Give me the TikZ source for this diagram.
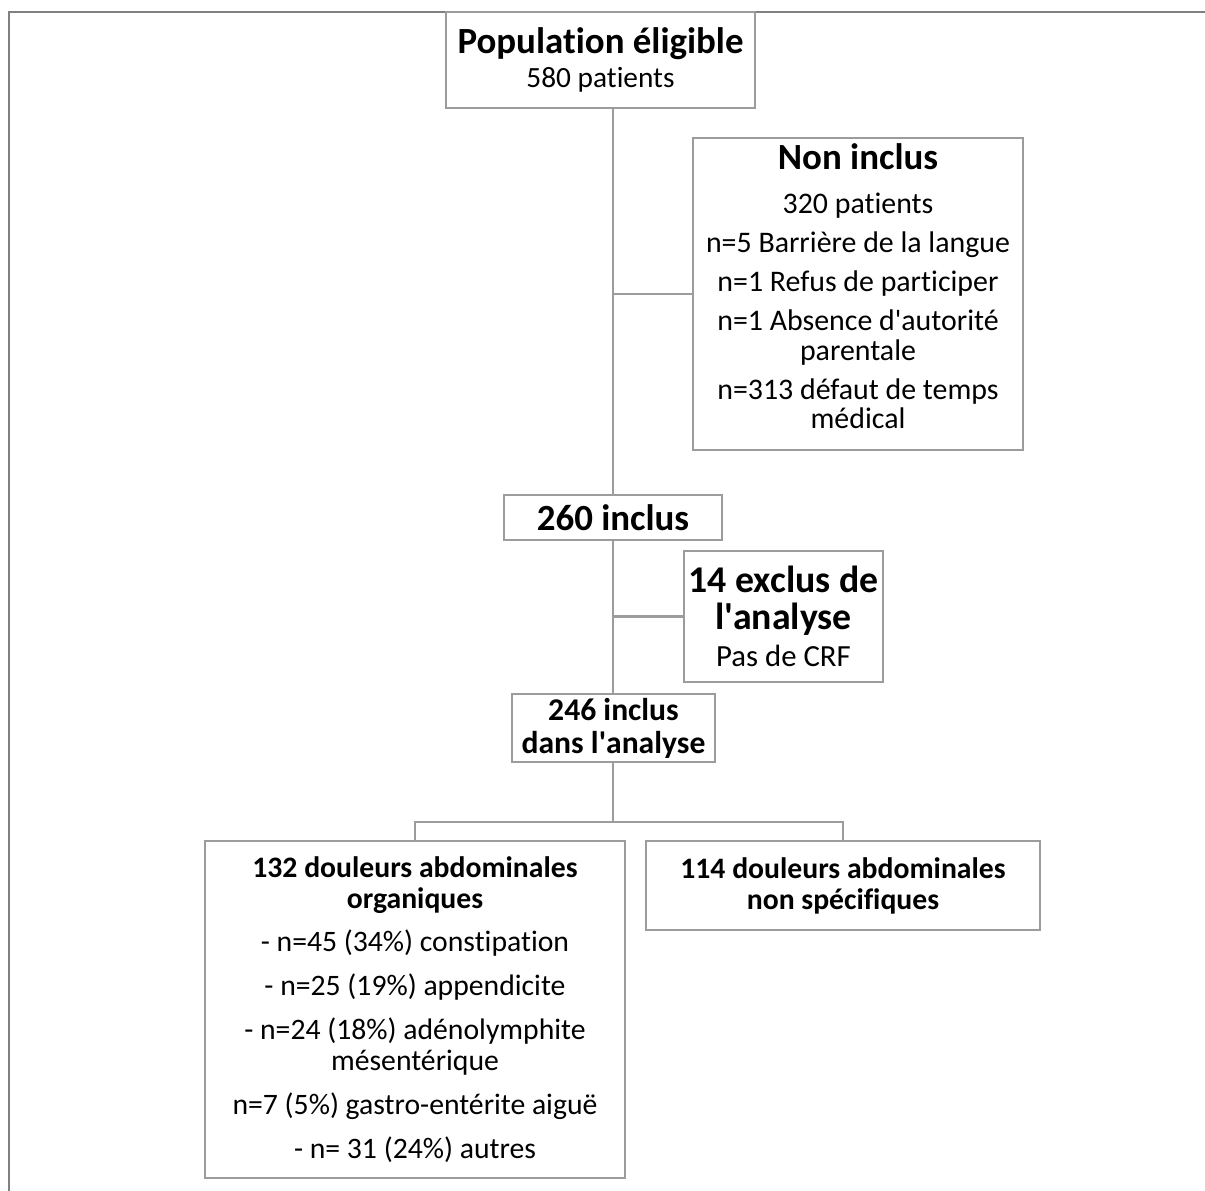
\documentclass[tikz,border=0pt]{standalone}
\usepackage{fontspec}
\setmainfont{Carlito}[Ligatures=NoCommon]
\usetikzlibrary{calc}
\definecolor{framegray}{HTML}{808080}
\definecolor{boxgray}{HTML}{9C9C9C}
\newcommand{\bigtitle}[1]{{\fontsize{21}{21}\selectfont\bfseries #1}}
\newcommand{\q}{\textquotesingle}

\begin{document}
\begin{tikzpicture}[x=0.02cm,y=-0.02cm,
  font=\fontsize{16.7}{16.4}\selectfont,
  box/.style={draw=boxgray,line width=1.2pt,align=center,inner sep=0pt},
  wire/.style={draw=boxgray,line width=1.2pt}]
  \useasboundingbox (0,0) rectangle (1205,1191);
  % page frame
  \draw[framegray,line width=1.2pt] (9,1191) -- (9,12) -- (1205,12);

  % flow boxes
  \node[box,minimum width=6.18cm,minimum height=1.92cm] (pop) at (600.5,60)
    {\bigtitle{Population éligible}\\[3.4pt]580 patients};
  \node[box,minimum width=6.6cm,minimum height=6.24cm,font=\fontsize{17}{16.8}\selectfont] (noninc) at (858,294)
    {\bigtitle{Non inclus}\\[8.4pt]320 patients\\[5.4pt]
     n=5 Barrière de la langue\\[5.4pt]n=1 Refus de participer\\[5.4pt]
     n=1 Absence d\q autorité\\parentale\\[5.4pt]
     n=313 défaut de temps\\médical\rule[-9pt]{0pt}{9pt}};
  \node[box,minimum width=4.36cm,minimum height=0.9cm] (inc260) at (613,517.5)
    {\bigtitle{260 inclus}};
  \node[box,minimum width=3.98cm,minimum height=2.62cm,font=\fontsize{21.5}{21}\selectfont] (excl) at (783.5,616.5)
    {\textbf{14 exclus de}\\\textbf{l\q analyse}\\{\fontsize{17.5}{16.4}\selectfont Pas de CRF}};
  \node[box,minimum width=4.06cm,minimum height=1.36cm,font=\fontsize{18}{18.7}\selectfont\bfseries] (inc246) at (613.5,728)
    {246 inclus\\dans l\q analyse};
  \node[box,minimum width=8.4cm,minimum height=6.74cm,font=\fontsize{16.9}{17.6}\selectfont] (org) at (415,1009.5)
    {\textbf{132 douleurs abdominales}\\\textbf{organiques}\\[7.4pt]
     - n=45 (34\%) constipation\\[7.4pt]- n=25 (19\%) appendicite\\[7.4pt]
     - n=24 (18\%) adénolymphite\\mésentérique\\[7.4pt]
     n=7 (5\%) gastro-entérite aiguë\\[7.4pt]- n= 31 (24\%) autres};
  \node[box,minimum width=7.88cm,minimum height=1.78cm,font=\fontsize{16.9}{17.6}\selectfont\bfseries] (nonspec) at (843,885.5)
    {114 douleurs abdominales\\non spécifiques};

  % connectors
  \coordinate (split) at (613,822);
  \draw[wire] (pop.south -| inc260) -- (inc260.north);
  \draw[wire] (noninc.west) -- (noninc.west -| inc260);
  \draw[wire] (inc260.south) -- (inc246.north -| inc260);
  \draw[wire] (excl.west) -- (excl.west -| inc260);
  \draw[wire] (inc246.south -| inc260) -- (split);
  \draw[wire] (org.north) |- (split);
  \draw[wire] (nonspec.north) |- (split);
\end{tikzpicture}
\end{document}
